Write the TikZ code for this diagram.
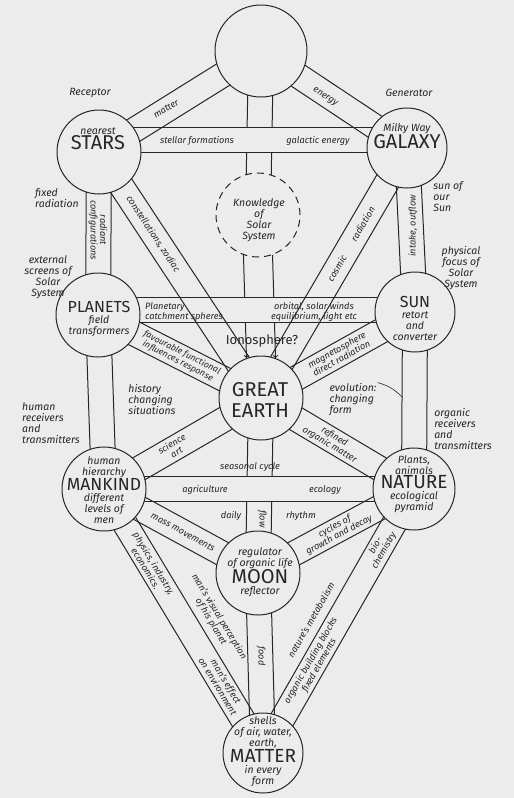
\documentclass[tikz,border=0pt]{standalone}
\usepackage{fontspec}
\setmainfont{Fira Sans}
\usetikzlibrary{calc}
\pgfdeclarelayer{paper}
\pgfdeclarelayer{paths}
\pgfsetlayers{paper,paths,main}
\definecolor{paper}{RGB}{236,236,236}
\definecolor{ink}{RGB}{38,38,38}
\newcommand{\sm}{\fontsize{10.5}{11}\selectfont\itshape}
\newcommand{\bt}{\fontsize{9.2}{9.6}\selectfont\itshape}
\newcommand{\bigword}{\fontsize{20}{21}\selectfont\upshape}
\newcommand{\midword}{\fontsize{16}{17}\selectfont\upshape}
% a path of the tree: two parallel lines between two spheres
\newcommand{\band}[2]{\draw[bandline] ($(#1.center)!12.5pt!90:(#2.center)$) -- ($(#2.center)!12.5pt!-90:(#1.center)$)
 ($(#1.center)!12.5pt!-90:(#2.center)$) -- ($(#2.center)!12.5pt!90:(#1.center)$);}
\tikzset{
 orb/.style={circle,draw=ink,fill=paper,line width=1pt,inner sep=0pt,minimum size=#1},
 bandline/.style={draw=ink,line width=1pt},
 hband/.style={draw=ink,line width=1pt,double=paper,double distance=24pt},
 txt/.style={font=\sm,align=center,text=ink,inner sep=1pt},
 ptxt/.style={txt,font=\bt},
}
\begin{document}
\begin{tikzpicture}[x=1pt,y=-1pt]
 \begin{pgfonlayer}{paper}
 \fill[paper] (0,0) rectangle (514,798);
 \end{pgfonlayer}
 \useasboundingbox (0,0) rectangle (514,798);
 % spheres
 \node[orb=92pt] (crown) at (261,51) {};
 \node[orb=84pt] (stars) at (99,152) {};
 \node[orb=80pt] (galaxy) at (407,148) {};
 \node[orb=84pt,dash pattern=on 7pt off 5pt] (know) at (258,215) {};
 \node[orb=84pt] (planets) at (98,315) {};
 \node[orb=80pt] (sun) at (415,312) {};
 \node[orb=84pt] (earth) at (261,398) {};
 \node[orb=84pt] (mankind) at (104,489) {};
 \node[orb=82pt] (nature) at (414,489) {};
 \node[orb=84pt] (moon) at (258,573) {};
 \node[orb=80pt] (matter) at (263,753) {};
 %
 \begin{pgfonlayer}{paths}
 % middle pillar, cut by the horizontal paths
 \band{crown}{know}
 \draw[bandline,->] (know.250) -- (earth.110);
 \draw[bandline,->] (know.290) -- (earth.70);
 \band{earth}{moon}
 \band{moon}{matter}
 % horizontal paths
 \draw[hband] ([yshift=12pt]stars.center) -- ([yshift=8pt]galaxy.center);
 \draw[hband] ([yshift=5pt]planets.center) -- ([yshift=2pt]sun.center);
 \draw[hband] (mankind.center) -- (nature.center);
 % side pillars
 \band{stars}{planets}
 \band{planets}{mankind}
 \band{galaxy}{sun}
 \band{sun}{nature}
 % diagonals
 \band{crown}{stars}
 \band{crown}{galaxy}
 \band{stars}{earth}
 \band{galaxy}{earth}
 \band{planets}{earth}
 \band{sun}{earth}
 \band{mankind}{earth}
 \band{nature}{earth}
 \band{mankind}{moon}
 \band{nature}{moon}
 \band{mankind}{matter}
 \band{nature}{matter}
 \end{pgfonlayer}
 %
 % texts in the spheres
 \node[txt] (starsT) at (98,139) {nearest\\{\bigword STARS}};
 \node[txt] (galaxyT) at (407,136) {Milky Way\\{\bigword GALAXY}};
 \node[txt] (knowT) at (259,220) {Knowledge\\of\\Solar\\System};
 \node[txt] (planetsT) at (99,319) {{\midword PLANETS}\\field\\transformers};
 \node[txt] (sunT) at (415,318) {{\midword SUN}\\retort\\and\\converter};
 \node[txt,font=\bigword] (earthT) at (260,400) {GREAT\\EARTH};
 \node[txt] (mankindT) at (104,490) {human\\hierarchy\\{\fontsize{17.5}{18}\selectfont\upshape MANKIND}\\different\\levels of\\men};
 \node[txt] (natureT) at (414,484) {Plants,\\animals\\{\fontsize{19}{20}\selectfont\upshape NATURE}\\ecological\\pyramid};
 \node[txt] (moonT) at (260,572) {regulator\\of organic life\\{\bigword MOON}\\reflector};
 \node[txt] (matterT) at (263,752) {shells\\of air, water,\\earth,\\{\fontsize{19}{20}\selectfont\upshape MATTER}\\in every\\form};
 %
 % texts beside the tree
 \node[txt] (receptor) at (90,93) {Receptor};
 \node[txt] (generator) at (409,93) {Generator};
 \node[txt,align=left] (fixedrad) at (57,198) {fixed\\radiation};
 \node[txt] (screens) at (48,277) {external\\screens of\\Solar\\System};
 \node[txt,align=left] (sunofsun) at (448,197) {sun of\\our\\Sun};
 \node[txt] (focus) at (461,268) {physical\\focus of\\Solar\\System};
 \node[txt,align=left] (history) at (152,399) {history\\changing\\situations};
 \node[txt,align=left] (humanrx) at (51,423) {human\\receivers\\and\\transmitters};
 \node[txt,align=left] (evolution) at (353,400) {evolution:\\changing\\form};
 \coordinate (evoEnd) at (402,397);
 \draw[bandline,line width=.6pt] (evolution.north east) to[bend left=15] (evoEnd);
 \node[txt,align=left] (organicrx) at (463,429) {organic\\receivers\\and\\transmitters};
 \node[txt,font=\fontsize{13}{14}\selectfont] (iono) at (262,341) {Ionosphere?};
 %
 % texts on the paths
 \node[ptxt,rotate=31.9] (matterP) at (166,109) {matter};
 \node[ptxt,rotate=-33.6] (energyP) at (325,97) {energy};
 \node[ptxt] (stellarP) at (197,141) {stellar formations};
 \node[ptxt] (galacticP) at (318,141) {galactic energy};
 \node[ptxt,rotate=-90] (radiantP) at (98,230) {radiant\\configurations};
 \node[ptxt,rotate=-56.6] (zodiacP) at (153,234) {constellations, zodiac};
 \node[ptxt,rotate=90] (intakeP) at (413,226) {intake, outflow};
 \node[ptxt,rotate=59.7] (cosmicP) at (351,244) {cosmic\hspace{18pt}radiation};
 \node[ptxt,align=left,anchor=west] (catchP) at (144,312) {Planetary\\catchment spheres};
 \node[ptxt] (orbitalP) at (314,312) {orbital, solar winds\\equilibrium, light etc};
 \node[ptxt,rotate=-27,font=\fontsize{8.8}{9.4}\selectfont\itshape] (favourP) at (180,357) {favourable functional\\influences response};
 \node[ptxt,rotate=29.2] (magnetoP) at (339,354) {magnetosphere\\direct radiation};
 \node[ptxt,rotate=30.1] (scienceP) at (174,448) {science\\art};
 \node[ptxt,rotate=-30.7] (refinedP) at (332,441) {refined\\organic matter};
 \node[ptxt] (seasonP) at (250,467) {seasonal cycle};
 \node[ptxt] (agriP) at (205,490) {agriculture};
 \node[ptxt] (ecoP) at (325,490) {ecology};
 \node[ptxt] (dailyP) at (231,516) {daily};
 \node[ptxt,rotate=-90] (flowP) at (262,519) {flow};
 \node[ptxt] (rhythmP) at (301,516) {rhythm};
 \node[ptxt,rotate=-28.6] (massP) at (183,532) {mass movements};
 \node[ptxt,rotate=28.3] (cyclesP) at (337,531) {cycles of\\growth and decay};
 \node[ptxt,rotate=-58.9] (physicsP) at (150,566) {physics, industry,\\economics.};
 \node[ptxt,rotate=-58.9] (visualP) at (215,619) {man's visual perception\\of his planet};
 \node[ptxt,rotate=-58.9] (effectP) at (222,684) {man's effect\\on environment};
 \node[ptxt,rotate=60.2] (bioP) at (380,548) {bio-\\chemistry};
 \node[ptxt,rotate=60.2] (metabP) at (311,620) {nature's metabolism};
 \node[ptxt,rotate=60.2] (blocksP) at (315,663) {organic building blocks\\fixed elements};
 \node[ptxt,rotate=-90] (foodP) at (261,656) {food};
\end{tikzpicture}
\end{document}
